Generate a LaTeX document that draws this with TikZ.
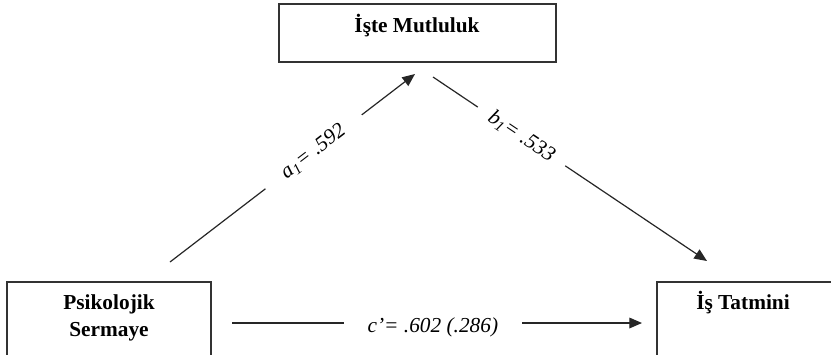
\documentclass[tikz,border=0pt]{standalone}
\usepackage{fontspec}
\setmainfont{Liberation Serif}
\usetikzlibrary{arrows.meta}
\tikzset{
  box/.style={draw=black!80, line width=1.1pt, fill=none},
  boxtext/.style={font=\fontsize{16}{19}\selectfont\bfseries, inner sep=0pt, align=center},
  conn/.style={draw=black!85, line width=0.9pt},
  arr/.style={conn, -{Triangle[length=9.5pt,width=8pt]}},
  coef/.style={font=\fontsize{16}{19}\selectfont\itshape, fill=white, inner ysep=1pt}
}
\begin{document}
\begin{tikzpicture}[x=0.75pt,y=-0.75pt]
\clip (0,0) rectangle (831,354);
\fill[white] (0,0) rectangle (831,354);
% boxes
\node[box, minimum width=277*0.75pt, minimum height=58*0.75pt, inner sep=0pt] (mutbox) at (417.5,33) {};
\node[boxtext] (mut) at (417,26) {İşte Mutluluk};
\node[box, minimum width=204*0.75pt, minimum height=90*0.75pt, inner sep=0pt] (psybox) at (109,327) {};
\node[boxtext, font=\fontsize{16}{20.5}\selectfont\bfseries] (psy) at (109,318) {Psikolojik\\Sermaye};
\node[box, minimum width=200*0.75pt, minimum height=90*0.75pt, inner sep=0pt] (isbox) at (757,327) {};
\node[boxtext] (is) at (743,303) {İş Tatmini};
% connector ends
\coordinate (as) at (170,262);
\coordinate (ae) at (415,74);
\coordinate (bs) at (433,77);
\coordinate (be) at (707,261);
\coordinate (cs) at (232,323);
\coordinate (ce) at (642,323);
% connectors
\draw[arr] (as) -- node[coef, sloped, inner xsep=17pt, pos=0.586] (alab) {a\textsubscript{1}= .592} (ae);
\draw[arr] (bs) -- node[coef, sloped, inner xsep=11pt, pos=0.323] (blab) {b\textsubscript{1}= .533} (be);
\draw[arr] (cs) -- node[coef, inner xsep=18pt, pos=0.49, yshift=-3pt] (clab) {c’= .602 (.286)} (ce);
\end{tikzpicture}
\end{document}
